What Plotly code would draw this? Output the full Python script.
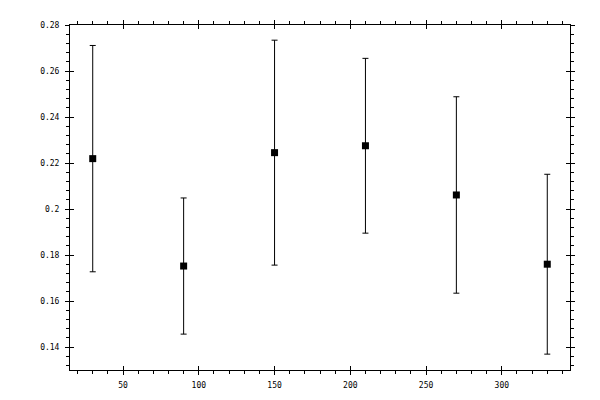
import plotly.graph_objects as go

# values
angles = [30, 90, 150, 210, 270, 330]
means = [0.2219, 0.1752, 0.2245, 0.2275, 0.2061, 0.1760]
errors = [0.0492, 0.0296, 0.0489, 0.0380, 0.0427, 0.0391]

x_range = [15, 345]
y_range = [0.13, 0.28]

font = dict(family="DejaVu Sans Mono", size=8, color="black")

fig = go.Figure()

fig.add_trace(go.Scatter(
    x=angles,
    y=means,
    mode="markers",
    marker=dict(symbol="square", size=7, color="black"),
    error_y=dict(type="data", array=errors, visible=True,
                 color="black", thickness=1, width=3),
    showlegend=False,
))

# empty trace so the overlay axes (inner half of the major ticks) get drawn
fig.add_trace(go.Scatter(x=[], y=[], xaxis="x2", yaxis="y2",
                         showlegend=False, hoverinfo="skip"))

common = dict(showgrid=False, zeroline=False, mirror="ticks")

# page body has an 8px margin, so the margins are shifted to compensate
fig.update_layout(
    width=600,
    height=400,
    margin=dict(l=62, r=38, t=12, b=38),
    plot_bgcolor="white",
    paper_bgcolor="white",
    font=font,
    xaxis=dict(
        range=x_range, tick0=0, dtick=50,
        showline=True, linecolor="black", linewidth=1,
        ticks="outside", ticklen=4, tickcolor="black", tickwidth=1,
        minor=dict(ticks="outside", dtick=10, ticklen=3,
                   tickcolor="black", tickwidth=1),
        tickfont=font, ticklabelstandoff=3,
        **common,
    ),
    yaxis=dict(
        range=y_range, tick0=0, dtick=0.02,
        showline=True, linecolor="black", linewidth=1,
        ticks="outside", ticklen=4, tickcolor="black", tickwidth=1,
        minor=dict(ticks="outside", dtick=0.004, ticklen=3,
                   tickcolor="black", tickwidth=1),
        tickfont=font, ticklabelstandoff=4,
        **common,
    ),
    xaxis2=dict(
        overlaying="x", anchor="y2", range=x_range, tick0=0, dtick=50,
        showline=False, ticks="inside", ticklen=4,
        tickcolor="black", tickwidth=1, showticklabels=False,
        **common,
    ),
    yaxis2=dict(
        overlaying="y", anchor="x2", range=y_range, tick0=0, dtick=0.02,
        showline=False, ticks="inside", ticklen=4,
        tickcolor="black", tickwidth=1, showticklabels=False,
        **common,
    ),
)

fig.write_html("out.html")
